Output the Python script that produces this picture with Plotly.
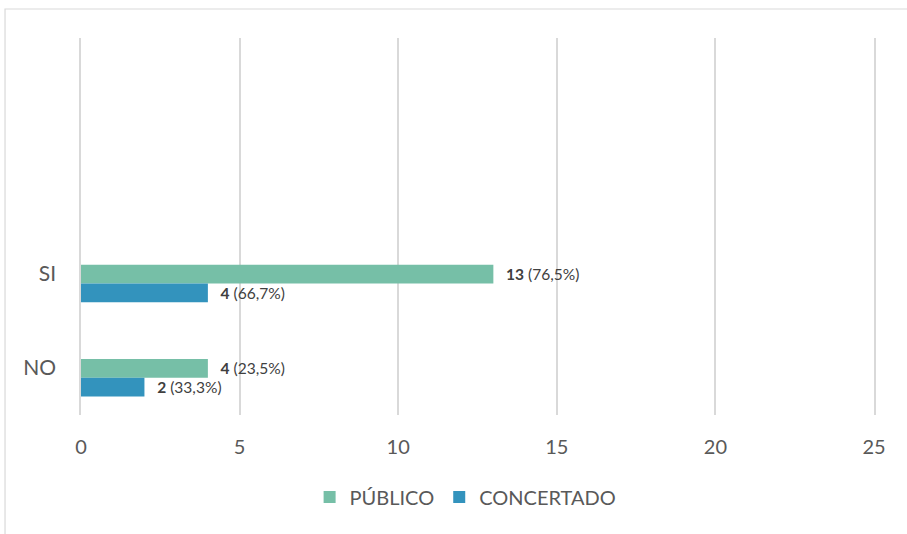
import plotly.graph_objects as go

# Categories (two blank slots above keep the bars in the lower half of the plot)
categories = ["NO", "SI", " ", "  "]
publico = [4, 13, None, None]
concertado = [2, 4, None, None]
publico_pct = ["23,5%", "76,5%", "", ""]
concertado_pct = ["33,3%", "66,7%", "", ""]
x_ticks = [0, 5, 10, 15, 20, 25]

GREEN = "#76BFA7"
BLUE = "#3393BD"
TEXT = "#404040"
AXIS_TEXT = "#595959"
GRID = "#D9D9D9"
FONT = "Lato, Open Sans, sans-serif"


def labels(values, pcts):
    return [f"\u2002\u2009<b>{v}</b> ({p})" if v is not None else ""
            for v, p in zip(values, pcts)]


fig = go.Figure()
fig.add_trace(go.Bar(
    name="PÚBLICO", y=categories, x=publico, orientation="h",
    marker=dict(color=GREEN, line=dict(width=0)),
    width=0.2, offset=-0.105,
    text=labels(publico, publico_pct), textposition="outside",
    textfont=dict(size=16.5, color=TEXT, family=FONT),
    cliponaxis=False,
))
fig.add_trace(go.Bar(
    name="CONCERTADO", y=categories, x=concertado, orientation="h",
    marker=dict(color=BLUE, line=dict(width=0)),
    width=0.2, offset=-0.305,
    text=labels(concertado, concertado_pct), textposition="outside",
    textfont=dict(size=16.5, color=TEXT, family=FONT),
    cliponaxis=False,
))

fig.update_layout(
    width=907, height=534,
    margin=dict(l=81, r=33, t=38, b=119),
    paper_bgcolor="white", plot_bgcolor="white",
    barmode="overlay",
    font=dict(family=FONT, color=AXIS_TEXT, size=20),
    showlegend=True,
    legend=dict(
        orientation="h", x=0.485, xanchor="center", y=-0.2175, yanchor="middle",
        font=dict(size=20, color=AXIS_TEXT, family=FONT),
        traceorder="normal", itemwidth=30,
    ),
    xaxis=dict(
        range=[0, 25], tickvals=x_ticks, showgrid=True,
        gridcolor=GRID, gridwidth=1.5, zeroline=False,
        showline=False, ticks="", ticklabelstandoff=18,
        tickfont=dict(size=20, color=AXIS_TEXT, family=FONT),
        fixedrange=True,
    ),
    yaxis=dict(
        type="category", categoryorder="array", categoryarray=categories,
        range=[-0.5, 3.5], showgrid=False, zeroline=False,
        # vertical lines at 0 and 25 act as the end gridlines
        showline=True, mirror=True, linecolor=GRID, linewidth=1.5,
        ticks="", ticklabelstandoff=19,
        tickfont=dict(size=21, color=AXIS_TEXT, family=FONT),
        fixedrange=True,
    ),
    shapes=[
        # light outline around the chart area
        dict(type="rect", xref="paper", yref="paper",
             x0=-0.0958, x1=1.2, y0=-0.4, y1=1.0769,
             line=dict(color=GRID, width=1.2), layer="below"),
    ],
)

fig.write_html("out.html")
